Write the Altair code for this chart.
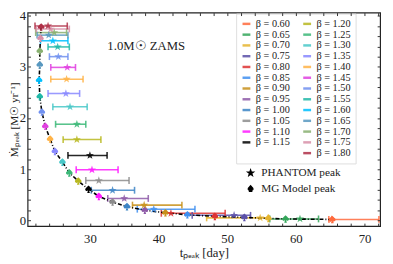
import altair as alt
import pandas as pd

betas = ["0.60", "0.65", "0.70", "0.75", "0.80", "0.85", "0.90", "0.95", "1.00",
         "1.05", "1.10", "1.15", "1.20", "1.25", "1.30", "1.35", "1.40", "1.45",
         "1.50", "1.55", "1.60", "1.65", "1.70", "1.75", "1.80"]
colors = ["#ff6a3d", "#33a65a", "#e6b42e", "#5a4fa8", "#dd3333", "#3f8ff0", "#c8901a",
          "#8e5aa8", "#3d85c6", "#8c8c8c", "#ff1aff", "#000000", "#b8b820", "#3cb878",
          "#48c8c8", "#8888ff", "#ffb347", "#e040e0", "#7090f0", "#20b8a8", "#00c0ff",
          "#5898c0", "#88b070", "#d890a8", "#b03048"]
# PHANTOM peak (star) with error range in t
star_t = [65.2, 60.6, 54.8, 51.0, 41.8, 39.3, 37.9, 35.0, 33.3, 31.3, 30.3, 30.0, 28.1,
          28.1, 27.1, 26.5, 26.6, 26.7, 25.4, 25.3, 24.6, 24.0, 24.8, 24.3, 23.9]
star_m = [0.02, 0.03, 0.05, 0.10, 0.14, 0.22, 0.30, 0.43, 0.59, 0.78, 0.99, 1.27, 1.58,
          1.88, 2.22, 2.48, 2.76, 2.99, 3.20, 3.39, 3.51, 3.62, 3.67, 3.74, 3.80]
err_lo = [64.8, 56.2, 47.0, 44.9, 40.4, 36.9, 36.2, 32.6, 30.2, 29.4, 28.0, 26.8, 26.1,
          25.0, 24.6, 23.9, 24.3, 24.3, 24.1, 23.9, 22.8, 22.3, 22.1, 22.2, 22.0]
err_hi = [72.1, 63.3, 56.0, 53.4, 49.7, 45.3, 43.4, 38.5, 36.5, 35.7, 34.1, 32.5, 31.6,
          29.4, 29.6, 28.5, 29.0, 27.9, 26.8, 27.0, 26.8, 26.8, 26.6, 27.0, 26.7]
# MG model peak (spade)
model_t = [65.3, 58.5, 56.0, 52.5, 48.2, 44.2, 41.0, 38.0, 35.4, 33.3, 31.3, 29.8, 28.3,
           27.0, 26.0, 24.9, 24.2, 23.5, 23.0, 22.7, 22.6, 22.7, 22.7, 22.8, 22.9]
model_m = [0.02, 0.03, 0.04, 0.06, 0.08, 0.11, 0.15, 0.20, 0.27, 0.36, 0.47, 0.61, 0.77,
           0.93, 1.14, 1.35, 1.59, 1.84, 2.12, 2.42, 2.74, 3.04, 3.31, 3.56, 3.78]
kinds = ["PHANTOM peak", "MG Model peak"]
note_text = ["1.0M\u2609 ZAMS"]
note_t = [38.2]
note_m = [3.41]
x_ticks = list(range(22, 73, 2))
y_ticks = [round(0.2 * i, 1) for i in range(0, 21)]

STAR = ("M0,-1 L0.235,-0.324 L0.951,-0.309 L0.380,0.124 L0.588,0.809 L0,0.4 "
        "L-0.588,0.809 L-0.380,0.124 L-0.951,-0.309 L-0.235,-0.324 Z")
SPADE = ("M0,-1 C0.3,-0.6 1,-0.3 0.85,0.2 C0.7,0.6 0.25,0.55 0.12,0.3 L0.35,1 L-0.35,1 "
         "L-0.12,0.3 C-0.25,0.55 -0.7,0.6 -0.85,0.2 C-1,-0.3 -0.3,-0.6 0,-1 Z")

df = pd.DataFrame({"beta": betas, "t": star_t, "m": star_m, "lo": err_lo, "hi": err_hi,
                   "mt": model_t, "mm": model_m, "order": list(range(len(betas)))})
note_df = pd.DataFrame({"text": note_text, "t": note_t, "m": note_m})

# legend fills column-wise: 0.60..1.15 (+blank) left column, 1.20..1.80 right column
dom = betas[:12] + [" "] + betas[12:]
rng = colors[:12] + ["rgba(0,0,0,0)"] + colors[12:]

FONT = "Liberation Serif"
W, H = 360, 218
xscale = alt.Scale(domain=[20.92, 72.27], nice=False, zero=False)
yscale = alt.Scale(domain=[-0.11, 4.06], nice=False, zero=False)
cscale = alt.Scale(domain=dom, range=rng)
sscale = alt.Scale(domain=kinds, range=[STAR, SPADE])

x_axis = alt.Axis(orient="bottom", values=x_ticks,
                  labelExpr="datum.value % 10 == 0 ? format(datum.value, 'd') : ''",
                  tickSize=3, offset=-3, domain=False, grid=False, labelPadding=7,
                  labelFont=FONT, labelFontSize=13, labelColor="#222", tickColor="#333",
                  title="t\u209a\u2091\u2090\u2096 [day]", titleFont=FONT, titleFontSize=13,
                  titleFontWeight="normal", titlePadding=1, titleColor="#222", zindex=1)
y_axis = alt.Axis(orient="left", values=y_ticks,
                  labelExpr="abs(datum.value - round(datum.value)) < 0.01 ? format(datum.value, 'd') : ''",
                  tickSize=3, offset=-3, domain=False, grid=False, labelPadding=2,
                  labelFont=FONT, labelFontSize=13, labelColor="#222", tickColor="#333",
                  title="\u1e40\u209a\u2091\u2090\u2096 [M\u2609 yr\u207b\u00b9]", titleFont=FONT,
                  titleFontSize=11.5, titleFontWeight="normal", titleX=-11.5,
                  titleColor="#222", zindex=1)
x_axis_top = alt.Axis(orient="top", values=x_ticks, labels=False, tickSize=3, offset=-3,
                      domain=False, grid=False, title=None, tickColor="#333", zindex=1)
y_axis_right = alt.Axis(orient="right", values=y_ticks, labels=False, tickSize=3, offset=-3,
                        domain=False, grid=False, title=None, tickColor="#333", zindex=1)

color_leg = alt.Legend(title=None, orient="none", legendX=213, legendY=1, columns=2,
                       symbolType="stroke", symbolSize=64, symbolStrokeWidth=2.5,
                       labelFont=FONT, labelFontSize=10.5, labelColor="#222",
                       labelExpr="datum.label == ' ' ? '' : '\u03b2 = ' + datum.label",
                       rowPadding=0, columnPadding=8, labelOffset=4,
                       strokeColor="#dddddd", fillColor="white", padding=5)
shape_leg = alt.Legend(title=None, orient="none", legendX=222, legendY=158,
                       symbolFillColor="black", symbolStrokeColor="black", symbolSize=30,
                       symbolOpacity=1,
                       labelFont=FONT, labelFontSize=11.5, labelColor="#222",
                       rowPadding=3, labelOffset=5)

base = alt.Chart(df)

rules = base.mark_rule(strokeWidth=1.6, opacity=0.85).encode(
    x=alt.X("lo:Q", scale=xscale, axis=x_axis),
    x2="hi:Q",
    y=alt.Y("m:Q", scale=yscale, axis=y_axis),
    color=alt.Color("beta:N", scale=cscale, legend=color_leg),
)
caps = base.transform_fold(["lo", "hi"], as_=["end", "tv"]).mark_tick(
    orient="vertical", thickness=1.6, size=7, opacity=0.85).encode(
    x=alt.X("tv:Q", scale=xscale, axis=None),
    y=alt.Y("m:Q", scale=yscale, axis=None),
    color=alt.Color("beta:N", scale=cscale, legend=None),
)
model_line = base.mark_line(color="black", strokeWidth=1.6, strokeDash=[4, 2, 1, 2]).encode(
    x=alt.X("mt:Q", scale=xscale, axis=None),
    y=alt.Y("mm:Q", scale=yscale, axis=None),
    order="order:Q",
)
spades = base.transform_calculate(kind="'MG Model peak'").mark_point(
    filled=True, opacity=1, size=60).encode(
    x=alt.X("mt:Q", scale=xscale, axis=None),
    y=alt.Y("mm:Q", scale=yscale, axis=None),
    color=alt.Color("beta:N", scale=cscale, legend=None),
    shape=alt.Shape("kind:N", scale=sscale, legend=shape_leg),
)
stars = base.transform_calculate(kind="'PHANTOM peak'").mark_point(
    filled=True, opacity=0.85, size=75).encode(
    x=alt.X("t:Q", scale=xscale, axis=None),
    y=alt.Y("m:Q", scale=yscale, axis=None),
    color=alt.Color("beta:N", scale=cscale, legend=None),
    shape=alt.Shape("kind:N", scale=sscale, legend=shape_leg),
)
note = alt.Chart(note_df).mark_text(font=FONT, fontSize=13, color="#222", align="center").encode(
    x=alt.X("t:Q", scale=xscale, axis=x_axis_top),
    y=alt.Y("m:Q", scale=yscale, axis=y_axis_right),
    text="text:N",
)

chart = alt.layer(rules, caps, model_line, spades, stars, note).properties(
    width=W, height=H,
    padding={"left": 20, "top": 2, "right": 5, "bottom": 36},
    autosize=alt.AutoSizeParams(type="none"),
).configure_view(stroke="#222", strokeWidth=1.2)

chart.save("out.html", embed_options={"renderer": "svg", "actions": False})
